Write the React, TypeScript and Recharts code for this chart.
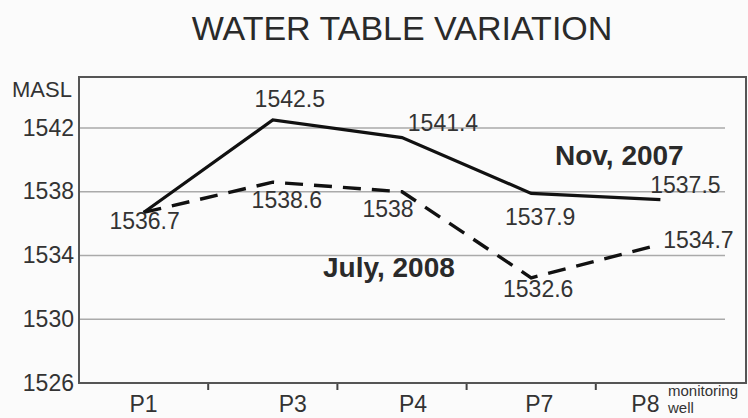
import React from "react";
import { LineChart, Line, XAxis, YAxis, CartesianGrid, LabelList } from "recharts";

const categories = ["P1", "P3", "P4", "P7", "P8"];
const nov2007 = [1536.7, 1542.5, 1541.4, 1537.9, 1537.5];
const july2008 = [1536.7, 1538.6, 1538, 1532.6, 1534.7];
const yTicks = [1526, 1530, 1534, 1538, 1542];
const seriesNames = ["Nov, 2007", "July, 2008"];
const title = "WATER TABLE VARIATION";
const yUnit = "MASL";
const lastTickNote = ["monitoring", "well"];

// label placement offsets (style only)
const novLabelDx = [1, 17, 41, 9, 25];
const novLabelDy = [17, -13, -7, 32, -7];
const julyLabelDx = [null, 14, -14, 7, 38];
const julyLabelDy = [null, 26, 25, 19, 4];
const xTickDx = [0, 20, 11, 8, -15];

const data = categories.map((c, i) => ({ cat: c, nov: nov2007[i], july: july2008[i] }));

const W = 748;
const H = 418;
const PLOT_L = 79;
const PLOT_R = 725;
const PLOT_T = 77;
const PLOT_B = 383;
const BAND = (PLOT_R - PLOT_L) / categories.length;
const FONT = "'Liberation Sans', Arial, sans-serif";
const TXT = "#333";

const makeLabel = (dxs: (number | null)[], dys: (number | null)[]) => (props: any) => {
  const { x, y, value, index } = props;
  const dx = dxs[index];
  const dy = dys[index];
  if (dx === null || dy === null || dx === undefined) return null;
  return (
    <text x={x + dx} y={y + (dy as number)} textAnchor="middle" fontSize={23} fontFamily={FONT} fill={TXT}>
      {value}
    </text>
  );
};

const XTick = (props: any) => {
  const { x, payload, index } = props;
  const dx = xTickDx[index] ?? 0;
  return (
    <g>
      {index < categories.length - 1 && (
        <line x1={x + BAND / 2} x2={x + BAND / 2} y1={PLOT_B} y2={PLOT_B + 7} stroke="#444" strokeWidth={2} />
      )}
      <text x={x + dx} y={412} textAnchor="middle" fontSize={23} fontFamily={FONT} fill={TXT}>
        {payload.value}
      </text>
    </g>
  );
};

const YTick = (props: any) => {
  const { y, payload } = props;
  return (
    <text x={74} y={y} dy="0.33em" textAnchor="end" fontSize={23} fontFamily={FONT} fill={TXT}>
      {payload.value}
    </text>
  );
};

export default function App() {
  return (
    <div style={{ position: "absolute", left: 0, top: 0, width: W, height: H, background: "#fbfbfb" }}>
      <LineChart width={W} height={H} data={data} margin={{ top: PLOT_T, right: W - PLOT_R, bottom: 0, left: 0 }}>
        <CartesianGrid horizontal vertical={false} stroke="#aaa" strokeWidth={1.5} />
        <XAxis
          dataKey="cat"
          height={H - PLOT_B}
          axisLine={false}
          tickLine={false}
          tick={<XTick />}
          interval={0}
          padding={{ left: BAND / 2, right: BAND / 2 }}
        />
        <YAxis
          width={PLOT_L}
          domain={[1526, 1545.2]}
          ticks={yTicks}
          axisLine={false}
          tickLine={false}
          tick={<YTick />}
          allowDataOverflow
        />
        <Line
          dataKey="nov"
          name={seriesNames[0]}
          stroke="#111"
          strokeWidth={3.2}
          dot={false}
          isAnimationActive={false}
        >
          <LabelList dataKey="nov" content={makeLabel(novLabelDx, novLabelDy)} />
        </Line>
        <Line
          dataKey="july"
          name={seriesNames[1]}
          stroke="#111"
          strokeWidth={3.4}
          strokeDasharray="18 11"
          dot={false}
          isAnimationActive={false}
        >
          <LabelList dataKey="july" content={makeLabel(julyLabelDx, julyLabelDy)} />
        </Line>
      </LineChart>
      <svg
        width={W}
        height={H}
        style={{ position: "absolute", left: 0, top: 0, pointerEvents: "none" }}
      >
        <rect x={79} y={PLOT_T} width={746 - 79} height={PLOT_B - PLOT_T} fill="none" stroke="#555" strokeWidth={2} />
        <text x={402} y={40} textAnchor="middle" fontSize={34} fontFamily={FONT} fill="#2a2a2a">
          {title}
        </text>
        <text x={12} y={97} fontSize={22} fontFamily={FONT} fill={TXT}>
          {yUnit}
        </text>
        <text x={555} y={165} fontSize={28} fontWeight="bold" fontFamily={FONT} fill="#2a2a2a">
          {seriesNames[0]}
        </text>
        <text x={323} y={277} fontSize={28} fontWeight="bold" fontFamily={FONT} fill="#2a2a2a">
          {seriesNames[1]}
        </text>
        <text x={668} y={396} fontSize={15} fontFamily={FONT} fill={TXT}>
          {lastTickNote[0]}
        </text>
        <text x={668} y={413} fontSize={15} fontFamily={FONT} fill={TXT}>
          {lastTickNote[1]}
        </text>
      </svg>
    </div>
  );
}
